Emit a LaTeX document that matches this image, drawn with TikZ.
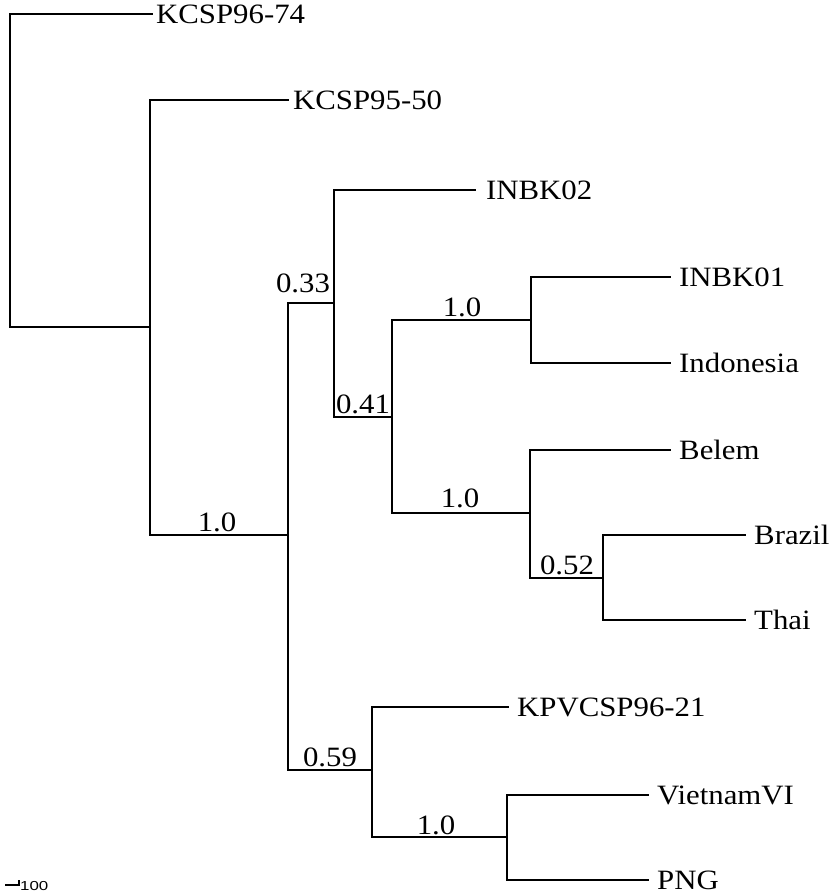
\documentclass[tikz,border=0pt]{standalone}
\usepackage{fontspec}
\setmainfont{Liberation Serif}[FakeStretch=1.1]
\newfontfamily\scalefont{Liberation Sans}[FakeStretch=1.3]
\begin{document}
\begin{tikzpicture}[x=1pt,y=-1pt,
  edge/.style={draw=black,line width=1.7pt,line cap=rect},
  leaf/.style={anchor=west,inner xsep=9pt,inner ysep=0pt,font=\fontsize{28}{30}\selectfont},
  boot/.style={inner sep=0pt,font=\fontsize{28}{30}\selectfont}]
\useasboundingbox (0,0) rectangle (835,894);
% internal nodes
\coordinate (r)  at (10,327);
\coordinate (n1) at (150,327);
\coordinate (n2) at (288,535);
\coordinate (n3) at (334,303);
\coordinate (n4) at (392,417);
\coordinate (n5) at (531,320);
\coordinate (n6) at (530,513);
\coordinate (n7) at (603,578);
\coordinate (n8) at (372,770);
\coordinate (n9) at (507,837);
% leaves
\node[leaf,inner xsep=4pt] (l1)  at (152,14)  {KCSP96-74};
\node[leaf,inner xsep=5pt] (l2)  at (288,100) {KCSP95-50};
\node[leaf,inner xsep=11pt] (l3)  at (475,190) {INBK02};
\node[leaf] (l4)  at (670,277) {INBK01};
\node[leaf] (l5)  at (670,363) {Indonesia};
\node[leaf] (l6)  at (670,450) {Belem};
\node[leaf] (l7)  at (745,535) {Brazil};
\node[leaf] (l8)  at (745,620) {Thai};
\node[leaf] (l9)  at (508,707) {KPVCSP96-21};
\node[leaf] (l10) at (648,795) {VietnamVI};
\node[leaf] (l11) at (648,880) {PNG};
% edges
\draw[edge] (r) |- (l1.west);
\draw[edge] (r) -- (n1);
\draw[edge] (n1) |- (l2.west);
\draw[edge] (n1) |- (n2);
\draw[edge] (n2) |- (n3);
\draw[edge] (n2) |- (n8);
\draw[edge] (n3) |- (l3.west);
\draw[edge] (n3) |- (n4);
\draw[edge] (n4) |- (n5);
\draw[edge] (n4) |- (n6);
\draw[edge] (n5) |- (l4.west);
\draw[edge] (n5) |- (l5.west);
\draw[edge] (n6) |- (l6.west);
\draw[edge] (n6) |- (n7);
\draw[edge] (n7) |- (l7.west);
\draw[edge] (n7) |- (l8.west);
\draw[edge] (n8) |- (l9.west);
\draw[edge] (n8) |- (n9);
\draw[edge] (n9) |- (l10.west);
\draw[edge] (n9) |- (l11.west);
% support values
\node[boot] (b1) at (217,522) {1.0};
\node[boot] (b2) at (303,283) {0.33};
\node[boot] (b3) at (363,404) {0.41};
\node[boot] (b4) at (462,307) {1.0};
\node[boot] (b5) at (460,498) {1.0};
\node[boot] (b6) at (567,565) {0.52};
\node[boot] (b7) at (330,757) {0.59};
\node[boot] (b8) at (436,825) {1.0};
% scale bar
\coordinate (s0) at (5,885);
\coordinate (s1) at (19,885);
\coordinate (s2) at (19,880);
\draw[line width=1.2pt] (s0) -- (s1) -- (s2);
\node[anchor=base west,inner sep=0pt,font=\scalefont\fontsize{13}{14}\selectfont] (sc) at (20,890) {100};
\end{tikzpicture}
\end{document}
